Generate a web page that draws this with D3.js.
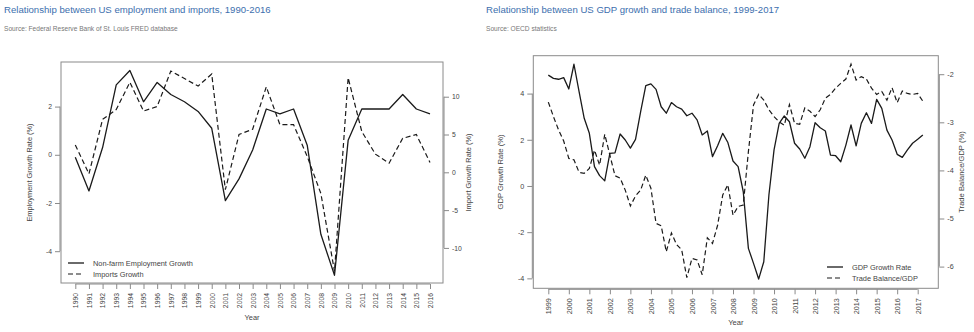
<!DOCTYPE html>
<html>
<head>
<meta charset="utf-8">
<script src="https://cdn.jsdelivr.net/npm/d3@7"></script>
<style>
body { margin: 0; background: #fff; font-family: "Liberation Sans", Arial, sans-serif; }
svg text { font-family: "Liberation Sans", Arial, sans-serif; }
</style>
</head>
<body>
<svg id="chart" width="974" height="332"></svg>
<script>
// left chart: annual data 1990-2016
var years = d3.range(1990, 2017);
var employment = [-0.1, -1.5, 0.3, 2.9, 3.5, 2.2, 3.0, 2.5, 2.2, 1.8, 1.1, -1.9, -1.0, 0.2, 1.9, 1.7, 1.9, 0.4, -3.3, -5.0, 0.6, 1.9, 1.9, 1.9, 2.5, 1.9, 1.7];
var imports = [3.6, -0.2, 7.0, 8.3, 11.9, 8.1, 8.7, 13.4, 12.4, 11.4, 13.0, -2.3, 5.0, 5.7, 11.3, 6.3, 6.3, 2.1, -2.8, -13.1, 12.5, 5.4, 2.4, 1.2, 4.5, 5.0, 1.3];
var empTicks = [-4, -2, 0, 2];
var impTicks = [-10, -5, 0, 5, 10];

// right chart: quarterly data 1999Q1-2017Q2
var gdpGrowth = [4.8, 4.66, 4.62, 4.69, 4.2, 5.27, 4.08, 2.93, 2.28, 0.84, 0.45, 0.22,
  1.41, 1.43, 2.25, 1.99, 1.64, 2.02, 3.22, 4.34, 4.42, 4.18, 3.43, 3.15,
  3.61, 3.43, 3.33, 3.04, 3.15, 2.86, 2.21, 2.38, 1.27, 1.74, 2.28, 1.88,
  1.08, 0.84, -0.25, -2.7, -3.35, -4.03, -3.28, -0.39, 1.56, 2.71, 3.03, 2.78,
  1.85, 1.6, 1.2, 1.7, 2.74, 2.52, 2.38, 1.34, 1.31, 1.05, 1.77, 2.64,
  1.74, 2.71, 3.17, 2.71, 3.75, 3.36, 2.42, 1.99, 1.37, 1.24, 1.56, 1.85,
  2.02, 2.21];
var tradeBalance = [-2.58, -2.88, -3.16, -3.39, -3.75, -3.78, -4.04, -4.06, -3.96, -3.58, -3.89, -3.25,
  -3.68, -4.11, -4.16, -4.41, -4.74, -4.53, -4.41, -4.1, -4.37, -5.1, -5.15, -5.69,
  -5.3, -5.54, -5.65, -6.23, -5.83, -5.86, -6.17, -5.4, -5.52, -5.14, -4.51, -4.3,
  -4.93, -4.75, -4.72, -3.61, -2.64, -2.42, -2.54, -2.74, -2.88, -2.99, -3.06, -2.63,
  -3.02, -3.04, -2.7, -2.77, -2.88, -2.74, -2.5, -2.42, -2.29, -2.19, -2.1, -1.79,
  -2.12, -2.05, -2.1, -2.29, -2.42, -2.36, -2.54, -2.28, -2.59, -2.35, -2.4, -2.42,
  -2.4, -2.56];
var qYears = d3.range(1999, 2018);
var gdpTicks = [-4, -2, 0, 2, 4];
var tradeTicks = [-6, -5, -4, -3, -2];

var svg = d3.select("#chart");
var lineColor = "#1a1a1a";
var boxColor = "#8a8a8a";
var textColor = "#444";
// plain hyphen minus, like the original
var fmt = function (d) { return String(d); };

function header(x, title, source) {
    svg.append("text").attr("x", x).attr("y", 13)
        .attr("fill", "#3d6fae").style("font-size", "9.6px").text(title);
    svg.append("text").attr("x", x).attr("y", 31)
        .attr("fill", "#777").style("font-size", "6.6px").text(source);
}

function drawPanel(p) {
    var x = d3.scaleLinear().domain(p.xDomain).range(p.xRange);
    var yL = d3.scaleLinear().domain(p.yLDomain).range([p.bottom, p.top]);
    var yR = d3.scaleLinear().domain(p.yRDomain).range([p.bottom, p.top]);
    var g = svg.append("g");

    g.append("rect")
        .attr("x", p.left).attr("y", p.top)
        .attr("width", p.right - p.left).attr("height", p.bottom - p.top)
        .attr("fill", "none").attr("stroke", boxColor).attr("stroke-width", 1);

    // bottom axis
    var xa = g.append("g")
        .attr("transform", "translate(0," + (p.bottom + 1) + ")")
        .call(d3.axisBottom(x).tickValues(p.xTicks).tickSize(5).tickFormat(fmt));
    xa.select(".domain").attr("stroke", boxColor)
        .attr("d", "M" + x(p.xTicks[0]) + ",0H" + x(p.xTicks[p.xTicks.length - 1]));
    xa.selectAll(".tick line").attr("stroke", boxColor);
    xa.selectAll(".tick text")
        .attr("fill", textColor).style("font-size", p.tickFont)
        .attr("transform", "rotate(-90)")
        .attr("x", -9).attr("y", 0).attr("dy", "0.35em")
        .style("text-anchor", "end");

    // left axis
    var la = g.append("g")
        .attr("transform", "translate(" + (p.left - 1) + ",0)")
        .call(d3.axisLeft(yL).tickValues(p.yLTicks).tickSize(5).tickFormat(fmt));
    la.select(".domain").attr("stroke", boxColor)
        .attr("d", "M0," + yL(p.yLTicks[0]) + "V" + yL(p.yLTicks[p.yLTicks.length - 1]));
    la.selectAll(".tick line").attr("stroke", boxColor);
    la.selectAll(".tick text").attr("fill", textColor).style("font-size", p.tickFont).attr("x", -8);

    // right axis
    var ra = g.append("g")
        .attr("transform", "translate(" + (p.right + 1) + ",0)")
        .call(d3.axisRight(yR).tickValues(p.yRTicks).tickSize(5).tickFormat(fmt));
    ra.select(".domain").attr("stroke", boxColor)
        .attr("d", "M0," + yR(p.yRTicks[0]) + "V" + yR(p.yRTicks[p.yRTicks.length - 1]));
    ra.selectAll(".tick line").attr("stroke", boxColor);
    ra.selectAll(".tick text").attr("fill", textColor).style("font-size", p.tickFont).attr("x", 8);

    // axis titles
    g.append("text")
        .attr("transform", "translate(" + p.yLTitleX + "," + (p.top + p.bottom) / 2 + ") rotate(-90)")
        .attr("text-anchor", "middle").attr("fill", textColor).style("font-size", p.titleFont)
        .text(p.yLTitle);
    g.append("text")
        .attr("transform", "translate(" + p.yRTitleX + "," + (p.top + p.bottom) / 2 + ") rotate(-90)")
        .attr("text-anchor", "middle").attr("fill", textColor).style("font-size", p.titleFont)
        .text(p.yRTitle);
    g.append("text")
        .attr("x", (p.left + p.right) / 2).attr("y", p.yearY)
        .attr("text-anchor", "middle").attr("fill", textColor).style("font-size", p.titleFont)
        .text("Year");

    // lines
    var lineL = d3.line().x(function (d, i) { return x(p.xs[i]); }).y(function (d) { return yL(d); });
    var lineR = d3.line().x(function (d, i) { return x(p.xs[i]); }).y(function (d) { return yR(d); });
    g.append("path").datum(p.solid).attr("d", lineL)
        .attr("fill", "none").attr("stroke", lineColor).attr("stroke-width", 1.3)
        .attr("stroke-linejoin", "round");
    g.append("path").datum(p.dashed).attr("d", lineR)
        .attr("fill", "none").attr("stroke", lineColor).attr("stroke-width", 1.2)
        .attr("stroke-dasharray", "5,3");

    // legend
    var lg = g.append("g").attr("transform", "translate(" + p.legX + "," + p.legY + ")");
    p.legend.forEach(function (name, i) {
        lg.append("line").attr("x1", 0).attr("x2", 16).attr("y1", i * 11).attr("y2", i * 11)
            .attr("stroke", lineColor).attr("stroke-width", i ? 1.2 : 1.3)
            .attr("stroke-dasharray", i ? "5,3" : null);
        lg.append("text").attr("x", 25).attr("y", i * 11).attr("dy", "0.35em")
            .attr("fill", textColor).style("font-size", "7.4px").text(name);
    });
}

header(4, "Relationship between US employment and imports, 1990-2016", "Source: Federal Reserve Bank of St. Louis FRED database");
header(486, "Relationship between US GDP growth and trade balance, 1999-2017", "Source: OECD statistics");

drawPanel({
    left: 61, right: 443, top: 62, bottom: 283,
    xDomain: [1990, 2016], xRange: [75.3, 430],
    yLDomain: [-5.32, 3.85], yRDomain: [-14.64, 14.59],
    xTicks: years, yLTicks: empTicks, yRTicks: impTicks,
    xs: years, solid: employment, dashed: imports,
    yLTitle: "Employment Growth Rate (%)", yRTitle: "Import Growth Rate (%)",
    yLTitleX: 32, yRTitleX: 471, yearY: 320,
    tickFont: "6.8px", titleFont: "7.4px",
    legend: ["Non-farm Employment Growth", "Imports Growth"], legX: 68, legY: 263
});

drawPanel({
    left: 533.3, right: 938.3, top: 55.7, bottom: 288.3,
    xDomain: [1999, 2017], xRange: [548.3, 917.7],
    yLDomain: [-4.43, 5.64], yRDomain: [-6.451, -1.615],
    xTicks: qYears, yLTicks: gdpTicks, yRTicks: tradeTicks,
    xs: gdpGrowth.map(function (d, i) { return 1999 + i / 4; }),
    solid: gdpGrowth, dashed: tradeBalance,
    yLTitle: "GDP Growth Rate (%)", yRTitle: "Trade Balance/GDP (%)",
    yLTitleX: 503, yRTitleX: 964, yearY: 325,
    tickFont: "7.2px", titleFont: "7.6px",
    legend: ["GDP Growth Rate", "Trade Balance/GDP"], legX: 827, legY: 267
});
</script>
</body>
</html>
